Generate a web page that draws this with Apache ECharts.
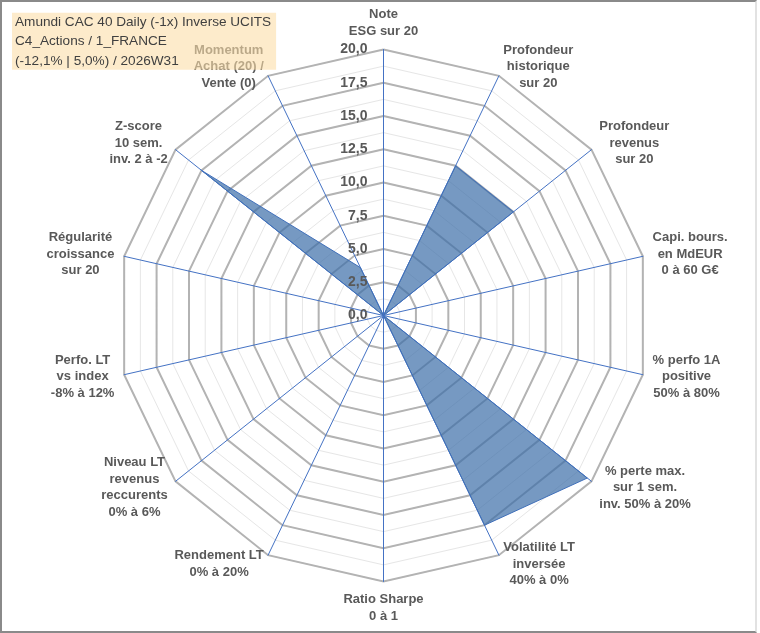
<!DOCTYPE html>
<html>
<head>
<meta charset="utf-8">
<script src="https://cdn.jsdelivr.net/npm/echarts@6/dist/echarts.min.js"></script>
<style>
  html, body { margin: 0; padding: 0; background: #fff; }
  #wrap { position: relative; width: 760px; height: 633px; overflow: hidden; }
  #chart { position: absolute; left: 0; top: 0; width: 760px; height: 633px; }
  #frame { position: absolute; left: 0; top: 0; width: 753px; height: 629px;
           border-left: 2px solid #8a8a8a; border-top: 2px solid #8a8a8a; border-bottom: 2px solid #8a8a8a;
           border-right: 2px solid #e2e2e2; pointer-events: none; }
</style>
</head>
<body>
<div id="wrap"><div id="chart"></div><div id="frame"></div></div>
<script>
// ---- data ----
const titleLines = ['Amundi CAC 40 Daily (-1x) Inverse UCITS', 'C4_Actions / 1_FRANCE', '(-12,1% | 5,0%) / 2026W31'];
const indicatorNames = [
  'Note\nESG sur 20',
  'Profondeur\nhistorique\nsur 20',
  'Profondeur\nrevenus\nsur 20',
  'Capi. bours.\nen MdEUR\n0 à 60 G€',
  '% perfo 1A\npositive\n50% à 80%',
  '% perte max.\nsur 1 sem.\ninv. 50% à 20%',
  'Volatilité LT\ninversée\n40% à 0%',
  'Ratio Sharpe\n0 à 1',
  'Rendement LT\n0% à 20%',
  'Niveau LT\nrevenus\nreccurents\n0% à 6%',
  'Perfo. LT\nvs index\n-8% à 12%',
  'Régularité\ncroissance\nsur 20',
  'Z-score\n10 sem.\ninv. 2 à -2',
  'Momentum\nAchat (20) /\nVente (0)'
];
const scores = [0, 12.5, 12.5, 0, 0, 19.6, 17.5, 0, 0, 0, 0, 0, 17.5, 4];
const scaleMax = 20;
const majorStep = 2.5;

// ECharts radar runs counter-clockwise: reorder to get clockwise layout
const order = [0].concat(indicatorNames.map((_, i) => i).slice(1).reverse());
const indicators = order.map(i => ({ name: indicatorNames[i], max: scaleMax, min: 0 }));
const values = order.map(i => scores[i]);

const CENTER = [383.5, 315.5];
const RADIUS = 266;
const labelColor = '#595959';
const font = 'Liberation Sans';

const chart = echarts.init(document.getElementById('chart'), null, { renderer: 'canvas' });
chart.setOption({
  animation: false,
  backgroundColor: '#ffffff',
  title: {
    left: 12, top: 10,
    padding: [2, 5, 2, 3],
    backgroundColor: 'rgba(252,222,168,0.6)',
    text: titleLines.map(l => '{t|' + l + '}').join('\n'),
    textStyle: {
      fontWeight: 'normal',
      rich: { t: { fontFamily: font, fontSize: 13.6, fontWeight: 'normal', color: '#404040', lineHeight: 19.5 } }
    }
  },
  polar: { center: CENTER, radius: RADIUS },
  angleAxis: { show: false, startAngle: 90, min: 0, max: 360 },
  radiusAxis: {
    min: 0, max: scaleMax, interval: majorStep,
    axisLine: { show: false }, axisTick: { show: false }, splitLine: { show: false },
    axisLabel: {
      show: true, margin: 16,
      formatter: v => v.toFixed(1).replace('.', ','),
      color: labelColor, fontFamily: font, fontWeight: 'bold', fontSize: 14
    },
    z: 10
  },
  radar: [
    {
      center: CENTER, radius: RADIUS, shape: 'polygon', startAngle: 90,
      indicator: indicators, splitNumber: 16,
      axisName: { show: false },
      axisLine: { show: false },
      splitLine: { lineStyle: { color: '#e6e6e6', width: 1 } },
      splitArea: { show: false }
    },
    {
      center: CENTER, radius: RADIUS, shape: 'polygon', startAngle: 90,
      indicator: indicators, splitNumber: 8, nameGap: 10,
      axisName: {
        color: labelColor, fontFamily: font, fontWeight: 'bold', fontSize: 13,
        formatter: n => n.split('\n').map(l => '{c|' + l + '}').join('\n'),
        rich: { c: { align: 'center', color: labelColor, fontFamily: font, fontWeight: 'bold', fontSize: 13, lineHeight: 16.5 } }
      },
      axisLine: { lineStyle: { color: '#4472C4', width: 1 } },
      splitLine: { lineStyle: { color: '#b3b3b3', width: 2 } },
      splitArea: { show: false }
    }
  ],
  series: [{
    type: 'radar',
    radarIndex: 1,
    symbol: 'none',
    lineStyle: { color: '#4472C4', width: 1 },
    areaStyle: { color: '#3C6DA8', opacity: 0.7 },
    data: [{ value: values, name: 'Score' }]
  }]
});
</script>
</body>
</html>
